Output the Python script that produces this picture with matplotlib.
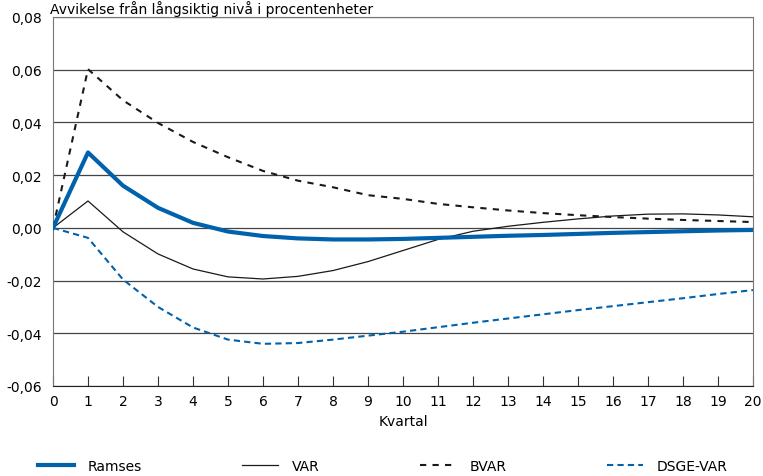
import numpy as np
import matplotlib
matplotlib.use("Agg")
import matplotlib.pyplot as plt
from matplotlib.ticker import FuncFormatter

quarters = list(range(21))
ramses = [0.0, 0.0286, 0.0160, 0.0076, 0.0019, -0.0014, -0.0031, -0.0040, -0.0044, -0.0044,
          -0.0042, -0.0038, -0.0034, -0.0030, -0.0027, -0.0023, -0.0019, -0.0016, -0.0013, -0.0010, -0.0008]
var = [0.0, 0.0102, -0.0015, -0.0099, -0.0156, -0.0186, -0.0194, -0.0184, -0.0162, -0.0128,
       -0.0086, -0.0044, -0.0013, 0.0006, 0.0021, 0.0034, 0.0045, 0.0052, 0.0053, 0.0049, 0.0042]
bvar = [0.0, 0.0602, 0.0484, 0.0398, 0.0326, 0.0268, 0.0216, 0.0179, 0.0154, 0.0124,
        0.0110, 0.0091, 0.0078, 0.0066, 0.0056, 0.0048, 0.0041, 0.0035, 0.0030, 0.0026, 0.0022]
dsge_var = [0.0, -0.0038, -0.0196, -0.0300, -0.0378, -0.0424, -0.0440, -0.0437, -0.0424, -0.0409,
            -0.0394, -0.0377, -0.0360, -0.0344, -0.0328, -0.0312, -0.0297, -0.0282, -0.0267, -0.0251, -0.0236]

blue = "#0062AC"
plt.rcParams["font.family"] = ["DejaVu Sans"]

fig = plt.figure(figsize=(7.63, 4.77), dpi=100)
ax = fig.add_axes([53 / 763, 1 - 387 / 477, 700 / 763, 369 / 477])

ax.plot(quarters, ramses, color=blue, lw=3.0, label="Ramses", zorder=5)
ax.plot(quarters, var, color="#1a1a1a", lw=0.9, label="VAR", zorder=4)
ax.plot(quarters, bvar, color="#1a1a1a", lw=1.5, dashes=(3, 3), label="BVAR", zorder=4)
ax.plot(quarters, dsge_var, color=blue, lw=1.5, dashes=(3, 2), label="DSGE-VAR", zorder=4)

ax.set_xlim(0, 20)
ax.set_ylim(-0.06, 0.08)
ax.set_xticks(quarters)
ax.set_yticks(np.arange(-0.06, 0.0801, 0.02))
ax.yaxis.set_major_formatter(FuncFormatter(lambda v, p: f"{v:.2f}".replace(".", ",").replace("-0,00", "0,00")))
ax.grid(axis="y", color="#444444", lw=0.9)
ax.set_axisbelow(True)
ax.tick_params(axis="y", length=0, labelsize=10, pad=8)
ax.tick_params(axis="x", direction="in", length=7, color="#333333", labelsize=10, pad=6)
for s in ["left", "right", "top"]:
    ax.spines[s].set_color("#777777")
ax.spines["bottom"].set_color("#222222")
ax.set_xlabel("Kvartal", fontsize=10, labelpad=4)

# title at the top edge, nudged right of the 0,08 label so they don't collide
fig.text(50 / 763, 1 - 1 / 477, "Avvikelse från långsiktig nivå i procentenheter",
         fontsize=10, va="top", ha="left")

fig.legend(loc="center left", bbox_to_anchor=(25 / 763, 10 / 477), ncol=4, frameon=False,
           fontsize=10, handlelength=2.6, handletextpad=1.0, columnspacing=7.2)

fig.savefig("out.png", dpi=100)
